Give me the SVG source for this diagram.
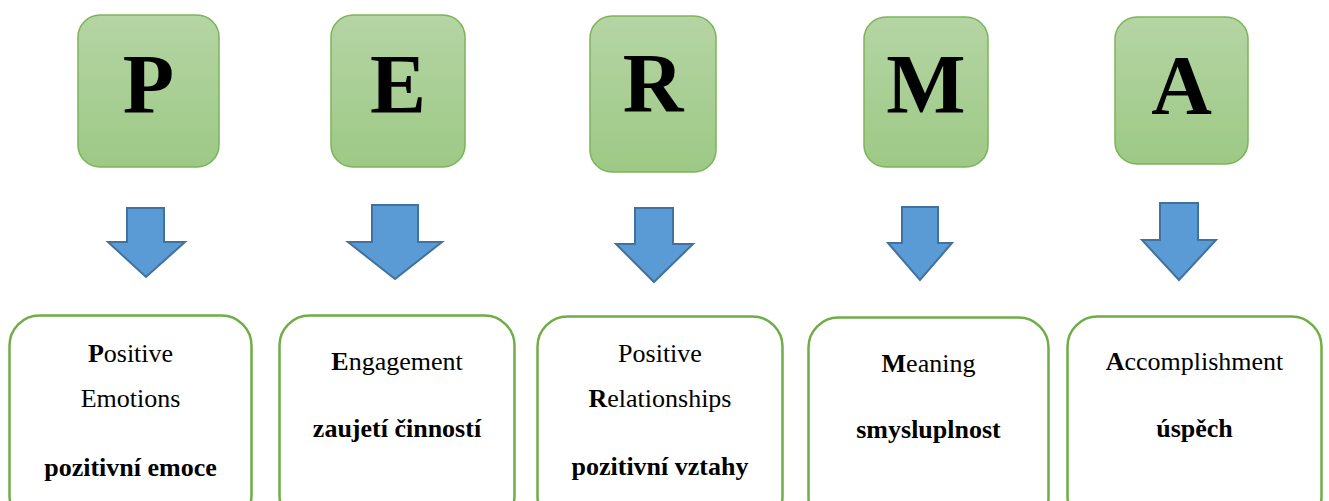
<svg xmlns="http://www.w3.org/2000/svg" width="1329" height="501" viewBox="0 0 1329 501">
  <defs>
    <linearGradient id="gGreen" x1="0" y1="0" x2="0" y2="1">
      <stop offset="0" stop-color="#b5d5a4"/>
      <stop offset="1" stop-color="#9dc985"/>
    </linearGradient>
  </defs>
  <style>
    .top { fill: url(#gGreen); stroke: #7cb459; stroke-width: 1.5; }
    .letter { font-family: "Liberation Serif", "Times New Roman", serif; font-weight: bold; font-size: 84px; fill: #000; text-anchor: middle; }
    .arrow { fill: #5b9bd5; stroke: #41719c; stroke-width: 2; stroke-linejoin: miter; }
    .card { fill: #fff; stroke: #70ad47; stroke-width: 2.5; }
    .txt { font-family: "Liberation Serif", "Times New Roman", serif; font-size: 26px; fill: #000; text-anchor: middle; }
    .b { font-weight: bold; }
  </style>

  <!-- letter tiles -->
  <g id="tile-P">
    <rect class="top" x="78" y="15" width="141" height="152" rx="22"/>
    <text class="letter" x="148.5" y="113">P</text>
  </g>
  <g id="tile-E">
    <rect class="top" x="331" y="15" width="134" height="152" rx="22"/>
    <text class="letter" x="398" y="113">E</text>
  </g>
  <g id="tile-R">
    <rect class="top" x="590" y="16" width="126" height="156" rx="22"/>
    <text class="letter" x="653" y="112">R</text>
  </g>
  <g id="tile-M">
    <rect class="top" x="864" y="17" width="124" height="150" rx="22"/>
    <text class="letter" x="926" y="113">M</text>
  </g>
  <g id="tile-A">
    <rect class="top" x="1115" y="17" width="133" height="147" rx="22"/>
    <text class="letter" x="1181.5" y="114">A</text>
  </g>

  <!-- block arrows -->
  <g id="connectors">
    <polygon class="arrow" points="127,208 164,208 164,242 185,242 146,277 108,242 127,242"/>
    <polygon class="arrow" points="372,205 418,205 418,242 442,242 395,279 348,242 372,242"/>
    <polygon class="arrow" points="635,208 673,208 673,244 693,244 654,282 616,244 635,244"/>
    <polygon class="arrow" points="902,207 938,207 938,243 952,243 920,280 888,243 902,243"/>
    <polygon class="arrow" points="1160,203 1198,203 1198,240 1216,240 1179,280 1142,240 1160,240"/>
  </g>

  <!-- description cards -->
  <g id="card-P">
    <rect class="card" x="9.5" y="315.5" width="242" height="210" rx="30"/>
    <text class="txt" x="130.5" y="362"><tspan class="b">P</tspan>ositive</text>
    <text class="txt" x="130.5" y="407">Emotions</text>
    <text class="txt b" x="130.5" y="476">pozitivní emoce</text>
  </g>
  <g id="card-E">
    <rect class="card" x="279.5" y="315.5" width="235" height="210" rx="30"/>
    <text class="txt" x="397" y="370"><tspan class="b">E</tspan>ngagement</text>
    <text class="txt b" x="397" y="437">zaujetí činností</text>
  </g>
  <g id="card-R">
    <rect class="card" x="537.5" y="316.5" width="245" height="210" rx="30"/>
    <text class="txt" x="660" y="362">Positive</text>
    <text class="txt" x="660" y="407"><tspan class="b">R</tspan>elationships</text>
    <text class="txt b" x="660" y="475">pozitivní vztahy</text>
  </g>
  <g id="card-M">
    <rect class="card" x="808.5" y="317.5" width="240" height="210" rx="30"/>
    <text class="txt" x="928.5" y="372"><tspan class="b">M</tspan>eaning</text>
    <text class="txt b" x="928.5" y="438">smysluplnost</text>
  </g>
  <g id="card-A">
    <rect class="card" x="1067.5" y="316.5" width="254" height="210" rx="30"/>
    <text class="txt" x="1194.5" y="370"><tspan class="b">A</tspan>ccomplishment</text>
    <text class="txt b" x="1194.5" y="437">úspěch</text>
  </g>
</svg>
